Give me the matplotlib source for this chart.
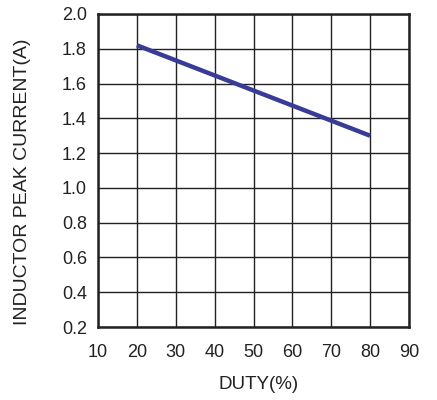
import matplotlib
matplotlib.use("Agg")
import matplotlib.pyplot as plt

plt.rcParams['font.family'] = ['Liberation Sans', 'DejaVu Sans']

duty = [20, 80]
peak_current = [1.82, 1.30]
x_ticks = [10, 20, 30, 40, 50, 60, 70, 80, 90]
y_ticks = [0.2, 0.4, 0.6, 0.8, 1.0, 1.2, 1.4, 1.6, 1.8, 2.0]

fig = plt.figure(figsize=(4.37, 4.00), dpi=100)
ax = fig.add_axes([98 / 437, 73 / 400, 311 / 437, 313 / 400])

ax.plot(duty, peak_current, color='#383c96', linewidth=3.2, solid_capstyle='butt', zorder=3)

ax.set_xlim(10, 90)
ax.set_ylim(0.2, 2.0)
ax.set_xticks(x_ticks)
ax.set_yticks(y_ticks)
ax.set_yticklabels([f"{v:.1f}" for v in y_ticks])
ax.grid(True, color='#222222', linewidth=1.0)
ax.tick_params(length=0, labelsize=13, colors='#222222')
ax.tick_params(axis='x', pad=12)
ax.tick_params(axis='y', pad=8)

for s in ax.spines.values():
    s.set_linewidth(1.8)
    s.set_color('#222222')

ax.set_xlabel('DUTY(%)', fontsize=13.5, color='#222222')
ax.set_ylabel('INDUCTOR PEAK CURRENT(A)', fontsize=14, color='#222222')
ax.xaxis.set_label_coords(0.515, -0.155)
ax.yaxis.set_label_coords(-0.215, 0.463)

fig.savefig('out.png', dpi=100)
